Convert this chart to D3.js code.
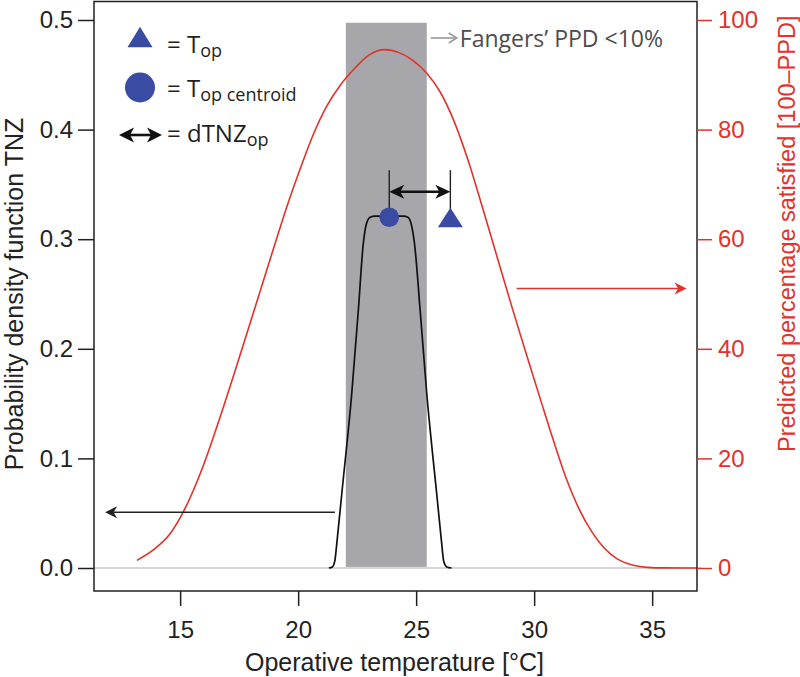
<!DOCTYPE html>
<html><head><meta charset="utf-8">
<script src="https://cdn.jsdelivr.net/npm/d3@7"></script>
<style>body{margin:0;background:#fff} svg{display:block}</style>
</head><body><svg id="chart" width="800" height="677"></svg>
<script>
// ---------- data ----------
const tempTicks = [15, 20, 25, 30, 35];
const tnzTicks  = [0, 0.1, 0.2, 0.3, 0.4, 0.5];
const ppsTicks  = [0, 20, 40, 60, 80, 100];

// Predicted percentage satisfied (100 - PPD) vs operative temperature
const ppsTemp  = [13.17, 13.86, 14.58, 15.14, 16.0, 16.69, 17.5, 18.39, 19.0, 19.55, 20.1, 20.65, 21.2, 21.8, 22.4, 23.0, 23.65, 24.3, 24.9, 25.45, 26.0, 26.6, 27.2, 27.7, 28.4, 29.13, 29.7, 30.25, 30.8, 31.39, 31.9, 32.46, 33.0, 33.5, 34.2, 34.8, 35.5, 36.9];
const ppsValue = [1.4,   3.3,   6.3,   10.3,  18.9, 27.5,  38.3, 50.5,  58.9, 66.3,  73.0, 79.2,  84.2, 88.2,  91.2, 93.6, 94.6,  94.0, 92.5, 90.3,  87.0, 81.6, 74.4, 67.4, 57.2, 46.6,  38.6, 31.0,  23.5, 16.0,  10.8, 6.5,   3.5,  1.7,  0.5,  0.12, 0.02, 0.0];

// Probability density function TNZ vs operative temperature
const tnzTemp  = [21.3, 21.45, 21.55, 21.65, 21.85, 22.27, 22.55, 22.76, 22.88, 23.05, 23.25, 24.45, 24.65, 24.8, 24.93, 25.17, 25.45, 25.87, 26.07, 26.17, 26.3, 26.5];
const tnzValue = [0.0,  0.001, 0.006, 0.025, 0.068, 0.159, 0.235, 0.296, 0.313, 0.320, 0.321, 0.321, 0.320, 0.313, 0.296, 0.235, 0.159, 0.068, 0.025, 0.006, 0.001, 0.0];

// Fanger's PPD < 10 % band
const comfortBand = [22.02, 25.45];
const comfortTop  = 0.4975;

// markers
const topCentroid = {t: 23.86, v: 0.320};
const topPoint    = {t: 26.45, v: 0.3197};
const dtnzLevel   = 0.3433;
const markerStemTop = 0.363;

// pointer arrows
const tnzArrow = {from: 21.56, to: 11.82, v: 0.0508};
const ppsArrow = {from: 29.26, to: 36.46, v: 51.0};

// ---------- layout ----------
const svg = d3.select("#chart");
const L = 94, R = 697, T = 1.5, B = 591;
const x  = d3.scaleLinear().domain([11.35, 36.9]).range([L, R]);
const yL = d3.scaleLinear().domain([0, 0.5]).range([568, 20]);
const yR = d3.scaleLinear().domain([0, 100]).range([568, 20]);

const RED = "#e3312b", BLUE = "#3a4ba3", DARK = "#231f20", GRAY = "#a7a7ab";
const AX_FONT = "'Liberation Sans', Arial, Helvetica, sans-serif";
const TXT_FONT = "'Open Sans', 'Noto Sans', sans-serif";

svg.append("defs").append("clipPath").attr("id", "plot")
  .append("rect").attr("x", L).attr("y", T).attr("width", R - L).attr("height", B - T);

// comfort band
svg.append("rect")
  .attr("x", x(comfortBand[0])).attr("width", x(comfortBand[1]) - x(comfortBand[0]))
  .attr("y", yL(comfortTop)).attr("height", yL(0.001) - yL(comfortTop))
  .attr("fill", GRAY);

// zero baseline
svg.append("line").attr("x1", L).attr("x2", R + 4).attr("y1", yL(0)).attr("y2", yL(0))
  .attr("stroke", "#c9c9c9").attr("stroke-width", 1.6);

// red curve
const ppsData = ppsTemp.map((t, i) => [t, ppsValue[i]]);
svg.append("path").datum(ppsData)
  .attr("clip-path", "url(#plot)")
  .attr("d", d3.line().x(d => x(d[0])).y(d => yR(d[1])).curve(d3.curveMonotoneX))
  .attr("fill", "none").attr("stroke", RED).attr("stroke-width", 1.6);

// black TNZ curve
const tnzData = tnzTemp.map((t, i) => [t, tnzValue[i]]);
svg.append("path").datum(tnzData)
  .attr("d", d3.line().x(d => x(d[0])).y(d => yL(d[1])).curve(d3.curveMonotoneX))
  .attr("fill", "none").attr("stroke", "#111").attr("stroke-width", 1.7);

// frame
svg.append("rect").attr("x", L).attr("y", T).attr("width", R - L).attr("height", B - T)
  .attr("fill", "none").attr("stroke", DARK).attr("stroke-width", 1.5);

// axes
const gL = svg.append("g").attr("transform", `translate(${L},0)`)
  .call(d3.axisLeft(yL).tickValues(tnzTicks).tickFormat(d3.format(".1f")).tickSize(16).tickPadding(5));
const gB = svg.append("g").attr("transform", `translate(0,${B})`)
  .call(d3.axisBottom(x).tickValues(tempTicks).tickFormat(d3.format("d")).tickSize(15).tickPadding(15));
const gR = svg.append("g").attr("transform", `translate(${R},0)`)
  .call(d3.axisRight(yR).tickValues(ppsTicks).tickSize(15).tickPadding(6));
[gL, gB, gR].forEach(g => {
  g.select(".domain").remove();
  g.selectAll("text").attr("font-family", AX_FONT).attr("font-size", 24);
  g.selectAll("line").attr("stroke-width", 1.5);
});
gL.selectAll("line").attr("stroke", DARK); gL.selectAll("text").attr("fill", "#222");
gB.selectAll("line").attr("stroke", DARK); gB.selectAll("text").attr("fill", "#222");
gR.selectAll("line").attr("stroke", RED);  gR.selectAll("text").attr("fill", RED);

// axis titles
svg.append("text").attr("x", (L + R) / 2 - 1).attr("y", 671).attr("text-anchor", "middle")
  .attr("font-family", AX_FONT).attr("font-size", 25).attr("fill", "#222")
  .text("Operative temperature [°C]");
svg.append("text").attr("transform", `translate(23,${(yL(0) + yL(0.5)) / 2}) rotate(-90)`)
  .attr("text-anchor", "middle").attr("font-family", AX_FONT).attr("font-size", 25).attr("fill", "#222")
  .text("Probability density function TNZ");
svg.append("text").attr("transform", `translate(795,${yR(61)}) rotate(-90)`)
  .attr("text-anchor", "middle").attr("font-family", AX_FONT).attr("font-size", 23.5).attr("fill", RED)
  .text("Predicted percentage satisfied [100\u2013PPD]");

// helpers
function head(tipX, tipY, dir, len, hw, notch, color) {
  const bx = tipX - dir * len, nx = tipX - dir * (len - notch);
  return svg.append("path")
    .attr("d", `M${tipX},${tipY} L${bx},${tipY - hw} L${nx},${tipY} L${bx},${tipY + hw} Z`)
    .attr("fill", color);
}
function triPath(cx, cy, w, h) {
  return `M${cx},${cy - h / 2} L${cx + w / 2},${cy + h / 2} L${cx - w / 2},${cy + h / 2} Z`;
}

// stems above markers
[topCentroid, topPoint].forEach(m => {
  svg.append("line").attr("x1", x(m.t)).attr("x2", x(m.t))
    .attr("y1", yL(markerStemTop)).attr("y2", yL(m.v))
    .attr("stroke", "#222").attr("stroke-width", 1.4);
});

// dTNZ double arrow
{
  const x1 = x(topCentroid.t), x2 = x(topPoint.t), yy = yL(dtnzLevel);
  svg.append("line").attr("x1", x1 + 8).attr("x2", x2 - 8).attr("y1", yy).attr("y2", yy)
    .attr("stroke", "#111").attr("stroke-width", 2.4);
  head(x1, yy, -1, 15, 7, 4, "#111");
  head(x2, yy, 1, 15, 7, 4, "#111");
}

// markers
svg.append("circle").attr("cx", x(topCentroid.t)).attr("cy", yL(topCentroid.v)).attr("r", 9.8).attr("fill", BLUE);
svg.append("path").attr("d", triPath(x(topPoint.t), yL(topPoint.v), 25, 19.5)).attr("fill", BLUE);

// pointer arrows
{
  const yy = yL(tnzArrow.v);
  svg.append("line").attr("x1", x(tnzArrow.from)).attr("x2", x(tnzArrow.to) + 8).attr("y1", yy).attr("y2", yy)
    .attr("stroke", "#222").attr("stroke-width", 1.6);
  head(x(tnzArrow.to), yy, -1, 12, 6, 3.5, "#222");
  const yr = yR(ppsArrow.v);
  svg.append("line").attr("x1", x(ppsArrow.from)).attr("x2", x(ppsArrow.to) - 8).attr("y1", yr).attr("y2", yr)
    .attr("stroke", RED).attr("stroke-width", 1.6);
  head(x(ppsArrow.to), yr, 1, 12, 6, 3.5, RED);
}

// Fanger annotation
{
  const ax0 = x(comfortBand[1]) + 4, ax1 = ax0 + 26, ay = 38;
  svg.append("line").attr("x1", ax0).attr("x2", ax1 - 1).attr("y1", ay).attr("y2", ay)
    .attr("stroke", "#9a9a9a").attr("stroke-width", 1.6);
  svg.append("path").attr("d", `M${ax1 - 8},${ay - 5} L${ax1},${ay} L${ax1 - 8},${ay + 5}`)
    .attr("fill", "none").attr("stroke", "#9a9a9a").attr("stroke-width", 1.6);
  svg.append("text").attr("x", ax1 + 3).attr("y", 47).attr("font-family", TXT_FONT).attr("font-size", 23)
    .attr("fill", "#4d4d4f").text("Fangers\u2019 PPD <10%");
}

// legend
{
  const lx = 140;
  svg.append("path").attr("d", triPath(lx, 37, 25, 20.5)).attr("fill", BLUE);
  svg.append("circle").attr("cx", lx).attr("cy", 87.5).attr("r", 15).attr("fill", BLUE);
  svg.append("line").attr("x1", 126).attr("x2", 155).attr("y1", 135).attr("y2", 135)
    .attr("stroke", "#111").attr("stroke-width", 2.6);
  head(119, 135, -1, 15, 7.5, 4, "#111");
  head(162, 135, 1, 15, 7.5, 4, "#111");

  const items = [
    {y: 53, main: "= T", sub: "op"},
    {y: 97, main: "= T", sub: "op centroid"},
    {y: 142, main: "= dTNZ", sub: "op"}
  ];
  items.forEach(it => {
    const t = svg.append("text").attr("x", 167).attr("y", it.y)
      .attr("font-family", TXT_FONT).attr("font-size", 24).attr("fill", "#231f20");
    t.append("tspan").text(it.main);
    t.append("tspan").attr("font-size", 18).attr("dy", 4).text(it.sub);
  });
}
</script>
</body></html>
